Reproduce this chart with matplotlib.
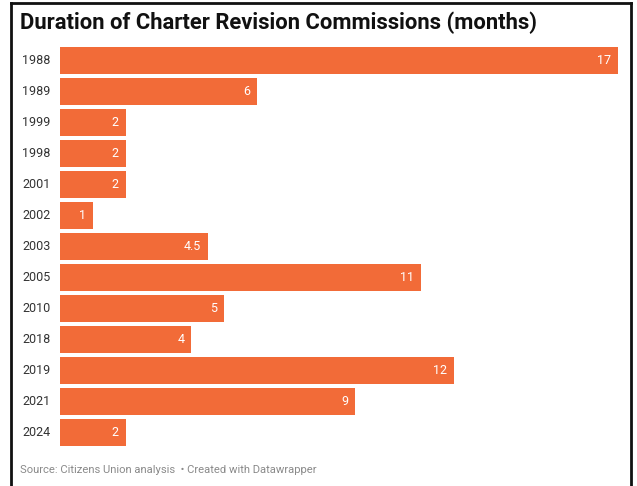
import matplotlib.pyplot as plt

years = ['1988', '1989', '1999', '1998', '2001', '2002', '2003',
         '2005', '2010', '2018', '2019', '2021', '2024']
months = [17, 6, 2, 2, 2, 1, 4.5, 11, 5, 4, 12, 9, 2]
value_labels = ['17', '6', '2', '2', '2', '1', '4.5', '11', '5', '4', '12', '9', '2']

BAR_COLOR = '#F26B38'
W, H = 637, 486

plt.rcParams['font.family'] = ['Roboto', 'DejaVu Sans']

fig = plt.figure(figsize=(W / 100, H / 100), dpi=100)
fig.patch.set_facecolor('white')

# chart area in pixel terms
ax_left, ax_right = 60, 618
ax_top, ax_bottom = 45, 448
ax = fig.add_axes([ax_left / W, 1 - ax_bottom / H,
                   (ax_right - ax_left) / W, (ax_bottom - ax_top) / H])

pos = list(range(len(years)))
ax.barh(pos, months, height=0.86, color=BAR_COLOR, edgecolor='none')
ax.set_xlim(0, 17)
ax.set_ylim(len(years) - 0.5, -0.5)

for p, m, lbl in zip(pos, months, value_labels):
    ax.annotate(lbl, (m, p), xytext=(-5, 0), textcoords='offset points',
                ha='right', va='center', color='white', fontsize=9)

for p, y in zip(pos, years):
    ax.text(-38 / ((ax_right - ax_left) / 17), p, y, ha='left', va='center',
            fontsize=9, color='#333333')

ax.axis('off')

fig.text(20 / W, 1 - 23 / H, 'Duration of Charter Revision Commissions (months)',
         fontsize=15.8, fontweight='bold', color='#111111', va='center', ha='left')
fig.text(20 / W, 1 - 470 / H,
         'Source: Citizens Union analysis  \u2022 Created with Datawrapper',
         fontsize=8.1, color='#8a8a8a', va='center', ha='left')

# black frame around the graphic (open at the bottom)
fig.add_artist(plt.Line2D([11 / W, 11 / W], [0, 1 - 3 / H], color='#111111', lw=2))
fig.add_artist(plt.Line2D([631 / W, 631 / W], [0, 1 - 3 / H], color='#111111', lw=2))
fig.add_artist(plt.Line2D([11 / W, 631 / W], [1 - 3 / H, 1 - 3 / H], color='#111111', lw=2))

fig.savefig('out.png', dpi=100, facecolor='white')
